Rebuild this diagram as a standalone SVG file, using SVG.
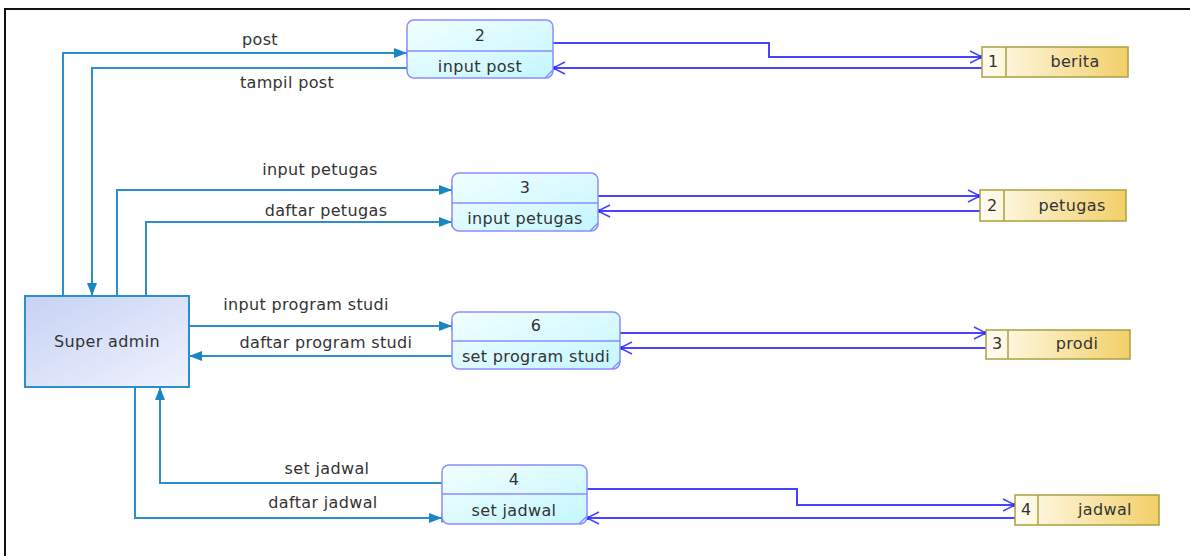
<svg xmlns="http://www.w3.org/2000/svg" width="1190" height="556" viewBox="0 0 1190 556">
<style>
text{font-family:"DejaVu Sans","Liberation Sans",sans-serif;font-size:16px;letter-spacing:0.35px;fill:#333;}
.c{text-anchor:middle;}
.proc{fill:url(#gProc);stroke:#8c8cff;stroke-width:1.5;}
.div{stroke:#8c8cff;stroke-width:1.5;}
.store{fill:url(#gStore);stroke:#a8a040;stroke-width:1.5;}
.ext{fill:url(#gExt);stroke:#2b8fcc;stroke-width:2;}
.fl{fill:none;stroke:#2b8fcc;stroke-width:2;marker-end:url(#aT);}
.ds{fill:none;stroke:#4545ff;stroke-width:2;marker-end:url(#aB);}
</style>
<defs>
<linearGradient id="gProc" x1="0" y1="0" x2="1" y2="1"><stop offset="0" stop-color="#f2ffff"/><stop offset="1" stop-color="#c4f6ff"/></linearGradient>
<linearGradient id="gStore" x1="0" y1="0" x2="1" y2="0"><stop offset="0" stop-color="#fffdf2"/><stop offset="1" stop-color="#f2cf68"/></linearGradient>
<linearGradient id="gExt" x1="0" y1="0" x2="1" y2="1"><stop offset="0" stop-color="#c6d2f4"/><stop offset="1" stop-color="#f0f2fd"/></linearGradient>
<marker id="aT" markerWidth="14" markerHeight="12" refX="13" refY="6" orient="auto" markerUnits="userSpaceOnUse"><path d="M0,1 L13,6 L0,11 Z" fill="#1a86c4"/><path d="M13,1.5 L13,10.5" stroke="#1a86c4" stroke-width="1.5"/></marker>
<marker id="aB" markerWidth="16" markerHeight="14" refX="14" refY="7" orient="auto" markerUnits="userSpaceOnUse"><path d="M2,1 L14,7 L2,13 M5,7 L14,7" fill="none" stroke="#4545ff" stroke-width="1.5"/><circle cx="13.5" cy="7" r="2" fill="#2020ff"/></marker>
</defs>
<rect width="1190" height="556" fill="#fff"/>
<path d="M5,556 L5,9 L1190,9" fill="none" stroke="#111" stroke-width="2"/>
<g id="connectors">
<path class="fl" d="M63,296 L63,53 L407,53"/>
<path class="fl" d="M407,68 L92,68 L92,296"/>
<path class="fl" d="M117,296 L117,190 L452,190"/>
<path class="fl" d="M146,296 L146,222 L452,222"/>
<path class="fl" d="M189,326 L452,326"/>
<path class="fl" d="M452,356 L189,356"/>
<path class="fl" d="M442,483 L160,483 L160,387"/>
<path class="fl" d="M135,387 L135,518 L442,518"/>
<path class="ds" d="M553,43 L769,43 L769,57 L982,57"/>
<path class="ds" d="M982,68 L553,68"/>
<path class="ds" d="M598,196 L980,196"/>
<path class="ds" d="M980,211 L598,211"/>
<path class="ds" d="M620,333 L986,333"/>
<path class="ds" d="M986,348 L620,348"/>
<path class="ds" d="M587,489 L797,489 L797,505 L1015,505"/>
<path class="ds" d="M1015,518 L587,518"/>
<text class="c" x="260" y="45">post</text>
<text class="c" x="287" y="88">tampil post</text>
<text class="c" x="320" y="175">input petugas</text>
<text class="c" x="326" y="216">daftar petugas</text>
<text class="c" x="306" y="310">input program studi</text>
<text class="c" x="326" y="348">daftar program studi</text>
<text class="c" x="327" y="474">set jadwal</text>
<text class="c" x="323" y="508">daftar jadwal</text>
</g>
<g id="super-admin">
<rect class="ext" x="25" y="296" width="164" height="91"/>
<text class="c" x="107" y="347">Super admin</text>
</g>
<g id="proc2">
<rect class="proc" x="407" y="20" width="146" height="58" rx="7"/>
<line class="div" x1="407" y1="51" x2="553" y2="51"/>
<line class="div" x1="545" y1="78" x2="553" y2="70" stroke-width="1"/>
<text class="c" x="480" y="41">2</text>
<text class="c" x="480" y="72">input post</text>
</g>
<g id="proc3">
<rect class="proc" x="452" y="173" width="146" height="58" rx="7"/>
<line class="div" x1="452" y1="203" x2="598" y2="203"/>
<line class="div" x1="590" y1="231" x2="598" y2="223" stroke-width="1"/>
<text class="c" x="525" y="193">3</text>
<text class="c" x="525" y="224">input petugas</text>
</g>
<g id="proc6">
<rect class="proc" x="452" y="312" width="168" height="57" rx="7"/>
<line class="div" x1="452" y1="341" x2="620" y2="341"/>
<line class="div" x1="612" y1="369" x2="620" y2="361" stroke-width="1"/>
<text class="c" x="536" y="331">6</text>
<text class="c" x="536" y="362">set program studi</text>
</g>
<g id="proc4">
<rect class="proc" x="442" y="465" width="145" height="59" rx="7"/>
<line class="div" x1="442" y1="494" x2="587" y2="494"/>
<line class="div" x1="579" y1="524" x2="587" y2="516" stroke-width="1"/>
<text class="c" x="514" y="485">4</text>
<text class="c" x="514" y="516">set jadwal</text>
</g>
<g id="store-berita">
<rect class="store" x="982" y="47" width="146" height="30"/>
<line class="store" x1="1006" y1="47" x2="1006" y2="77"/>
<text x="988" y="67">1</text>
<text class="c" x="1075" y="67">berita</text>
</g>
<g id="store-petugas">
<rect class="store" x="980" y="190" width="146" height="31"/>
<line class="store" x1="1004" y1="190" x2="1004" y2="221"/>
<text x="987" y="211">2</text>
<text class="c" x="1072" y="211">petugas</text>
</g>
<g id="store-prodi">
<rect class="store" x="986" y="330" width="144" height="29"/>
<line class="store" x1="1008" y1="330" x2="1008" y2="359"/>
<text x="992" y="349">3</text>
<text class="c" x="1077" y="349">prodi</text>
</g>
<g id="store-jadwal">
<rect class="store" x="1015" y="495" width="144" height="30"/>
<line class="store" x1="1038" y1="495" x2="1038" y2="525"/>
<text x="1021" y="515">4</text>
<text class="c" x="1105" y="515">jadwal</text>
</g>
</svg>
